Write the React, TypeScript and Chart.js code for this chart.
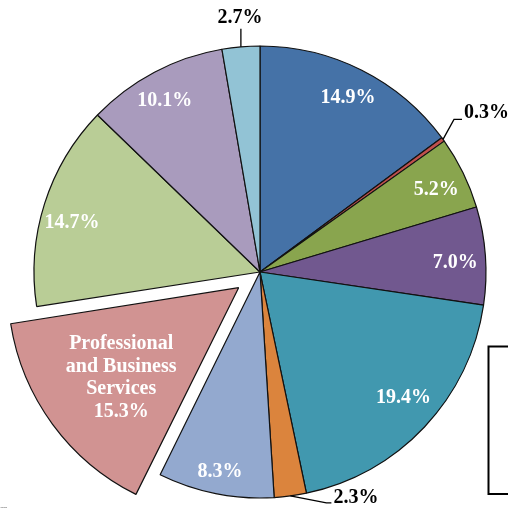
import React, { useEffect, useRef } from "react";
import { Chart, ArcElement, PieController } from "chart.js";

Chart.register(ArcElement, PieController);

const categories = [
  "Trade, Transportation and Utilities",
  "Mining and Logging",
  "Construction",
  "Manufacturing",
  "Education and Health Services",
  "Information",
  "Financial Activities",
  "Professional and Business Services",
  "Leisure and Hospitality",
  "Government",
  "Other Services",
];
const values = [14.9, 0.3, 5.2, 7.0, 19.4, 2.3, 8.3, 15.3, 14.7, 10.1, 2.7];
const valueLabels = ["14.9%", "0.3%", "5.2%", "7.0%", "19.4%", "2.3%", "8.3%", "15.3%", "14.7%", "10.1%", "2.7%"];
const labelTitles = ["", "", "", "", "", "", "", "Professional\nand Business\nServices", "", "", ""];
const colors = [
  "#4572A7", "#C0504D", "#89A54E", "#71588F", "#4198AF", "#DB843D",
  "#93A9CF", "#D19392", "#B9CD96", "#A99BBD", "#92C3D5",
];
const explodedIndex = 7;

// label placement styles (relative to each arc)
type LS = { out?: boolean; r?: number; da?: number; ex?: number; ey?: number; run?: number; tx?: number; ty?: number; align?: CanvasTextAlign };
const labelStyles: LS[] = [
  { r: 0.865 },
  { out: true, da: 0, ex: 11, ey: -20, run: 8, tx: 2, ty: -7, align: "left" },
  { r: 0.86, da: 1.2 },
  { r: 0.865, da: 1.5 },
  { r: 0.845, da: -2 },
  { out: true, da: 0, ex: 36, ey: 7, run: 5, tx: 2, ty: -5, align: "left" },
  { r: 0.9, da: 0 },
  { r: 0.655, da: -1.2 },
  { r: 0.86, da: -3 },
  { r: 0.865, da: -1.3 },
  { out: true, da: 0, ex: 0, ey: -18, run: 0, tx: -1, ty: -11, align: "center" },
];

const FONT = "bold 20px 'Liberation Serif', 'Times New Roman', serif";

const labelPlugin = {
  id: "sliceLabels",
  afterDatasetsDraw(chart: any) {
    const ctx: CanvasRenderingContext2D = chart.ctx;
    const meta = chart.getDatasetMeta(0);
    ctx.save();
    ctx.font = FONT;
    ctx.textBaseline = "middle";
    meta.data.forEach((arc: any, i: number) => {
      const st = labelStyles[i];
      const R = arc.outerRadius;
      const mid = (arc.startAngle + arc.endAngle) / 2;
      const off = ((arc.options && arc.options.offset) || 0) / 4;
      const cx = arc.x + Math.cos(mid) * off;
      const cy = arc.y + Math.sin(mid) * off;
      const a = mid + ((st.da || 0) * Math.PI) / 180;
      if (!st.out) {
        const px = cx + Math.cos(a) * R * (st.r || 0.85);
        const py = cy + Math.sin(a) * R * (st.r || 0.85);
        const lines = (labelTitles[i] ? labelTitles[i].split("\n") : []).concat([valueLabels[i]]);
        const lh = 22.5;
        ctx.fillStyle = "#ffffff";
        ctx.textAlign = "center";
        lines.forEach((ln, k) => {
          ctx.fillText(ln, px, py + (k - (lines.length - 1) / 2) * lh);
        });
      } else {
        const sx = cx + Math.cos(a) * R;
        const sy = cy + Math.sin(a) * R;
        const exx = sx + (st.ex || 0);
        const eyy = sy + (st.ey || 0);
        const endx = exx + (st.run || 0);
        ctx.strokeStyle = "#000";
        ctx.lineWidth = 1.3;
        ctx.beginPath();
        ctx.moveTo(sx, sy);
        ctx.lineTo(exx, eyy);
        ctx.lineTo(endx, eyy);
        ctx.stroke();
        ctx.fillStyle = "#000";
        ctx.textAlign = st.align || "left";
        ctx.fillText(valueLabels[i], endx + (st.tx || 0), eyy + (st.ty || 0));
      }
    });
    // cut-off legend frame at right
    ctx.strokeStyle = "#000";
    ctx.lineWidth = 2;
    ctx.strokeRect(488.5, 346.5, 40, 147.5);
    // cut-off footnote fragment
    ctx.fillStyle = "#444";
    ctx.font = "9px 'Liberation Serif', serif";
    ctx.textAlign = "left";
    ctx.textBaseline = "alphabetic";
    ctx.fillText("es", 0, 511);
    ctx.restore();
  },
};

export default function App() {
  const ref = useRef<HTMLCanvasElement | null>(null);
  useEffect(() => {
    if (!ref.current) return;
    const chart = new Chart(ref.current, {
      type: "pie",
      data: {
        labels: categories,
        datasets: [
          {
            data: values,
            backgroundColor: colors,
            borderColor: "#111111",
            borderWidth: 1.2,
            offset: values.map((_, i) => (i === explodedIndex ? 106 : 0)),
            radius: 226,
            clip: false as any,
          } as any,
        ],
      },
      options: {
        responsive: false,
        animation: false,
        events: [],
        layout: { padding: { left: 12, top: 36, right: 0, bottom: 0 } },
        plugins: { legend: { display: false }, tooltip: { enabled: false } } as any,
      },
      plugins: [labelPlugin],
    });
    return () => chart.destroy();
  }, []);
  return (
    <div style={{ position: "absolute", left: 0, top: 0, width: 508, height: 508, background: "#fff" }}>
      <canvas ref={ref} width={508} height={508} />
    </div>
  );
}
